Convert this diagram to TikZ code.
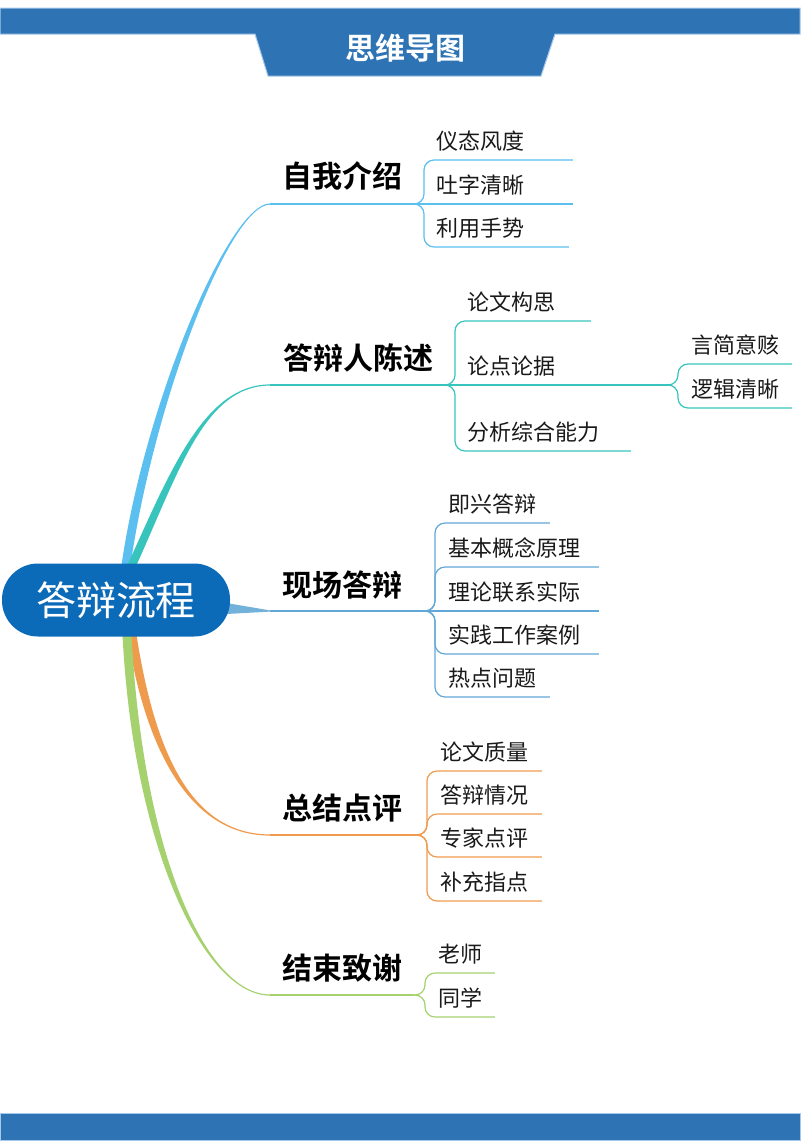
\documentclass[tikz,border=0pt]{standalone}
\usepackage{fontspec}
\setmainfont{Noto Sans CJK SC}[BoldFont={Noto Sans CJK SC Bold}]
\usetikzlibrary{calc,backgrounds}

\definecolor{barblue}{HTML}{2E74B5}
\definecolor{baredge}{HTML}{A7C8E8}
\definecolor{rootblue}{HTML}{0B6BB8}
\definecolor{cSky}{HTML}{5BBFEF}
\definecolor{cTeal}{HTML}{37C4BD}
\definecolor{cSteel}{HTML}{62A8D6}
\definecolor{cOrange}{HTML}{EF9B4E}
\definecolor{cGreen}{HTML}{A5D16F}

% tapered main branch: colour, root, control 1, control 2, end, side (1 up, -1 down)
\newcommand{\taper}[6]{%
  \fill[#1] ($#2+(-4.5,0)$) .. controls ($#3+(-4.5,0)$) and ($#4+(0,-0.6*#6)$) .. ($#5+(0,-0.6*#6)$)
    -- ($#5+(0,0.6*#6)$) .. controls ($#4+(0,0.6*#6)$) and ($#3+(4.5,0)$) .. ($#2+(4.5,0)$) -- cycle;}

\begin{document}
\begin{tikzpicture}[x=0.5pt,y=-0.5pt,
  root/.style={fill=rootblue,text=white,rounded corners=18pt,minimum width=114pt,
               minimum height=36.5pt,inner sep=0pt,font=\fontsize{20}{24}\selectfont},
  title/.style={text=white,inner sep=0pt,font=\fontsize{15}{18}\selectfont\bfseries},
  topic/.style={inner sep=0pt,text height=13.2pt,text depth=1.8pt,
                font=\fontsize{15}{18}\selectfont\bfseries},
  sub/.style={anchor=south west,align=left,inner xsep=6pt,inner ysep=4pt,
              text height=9.7pt,text depth=1.3pt,text=black!90,
              font=\fontsize{11}{13}\selectfont},
  ln/.style={line width=0.6pt},
  br/.style={ln,rounded corners=5pt}]
\useasboundingbox (0,0) rectangle (800,1147);

% ---- banner -----------------------------------------------------------
\fill[barblue,draw=baredge,line width=0.5pt] (0,8) -- (800,8) -- (800,34) -- (555,34)
  -- (541,76) -- (268,76) -- (255,34) -- (0,34) -- cycle;
\node[title] (ttl) at (405,48) {思维导图};
\fill[barblue,draw=baredge,line width=0.5pt] (0,1113) rectangle (800,1140);

% ---- root -------------------------------------------------------------
\node[root] (ctr) at (116,600) {答辩流程};
\coordinate (r1) at ($(ctr.north)+(10,2)$);
\coordinate (r2) at ($(ctr.north)+(16,2)$);
\coordinate (r4) at ($(ctr.south)+(16,-2)$);
\coordinate (r5) at ($(ctr.south)+(11,-2)$);

% ---- topics -----------------------------------------------------------
\node[topic] (zwjs) at (342,176) {自我介绍};
\node[topic] (dbrcs) at (358,358) {答辩人陈述};
\node[topic] (xcdb) at (342,585) {现场答辩};
\node[topic] (zjdp) at (342,808) {总结点评};
\node[topic] (jszx) at (342,968) {结束致谢};

\coordinate (zwjs-a) at (270,204);  \coordinate (zwjs-b) at (412,204);  \coordinate (zwjs-k) at (424,204);
\coordinate (dbrcs-a) at (270,385); \coordinate (dbrcs-b) at (443,385); \coordinate (dbrcs-k) at (455,385);
\coordinate (xcdb-a) at (270,611);  \coordinate (xcdb-b) at (423,611);  \coordinate (xcdb-k) at (435,611);
\coordinate (zjdp-a) at (270,835);  \coordinate (zjdp-b) at (415,835);  \coordinate (zjdp-k) at (427,835);
\coordinate (jszx-a) at (270,995);  \coordinate (jszx-b) at (413,995);  \coordinate (jszx-k) at (425,995);

% ---- sub topics -------------------------------------------------------
\node[sub,text width=62pt] (ytfd) at (424,160) {仪态风度};
\node[sub,text width=62pt] (tzqx) at (424,204) {吐字清晰};
\node[sub,text width=60pt] (lyss) at (424,247) {利用手势};

\node[sub,text width=55.5pt] (lwgs) at (455,321) {论文构思};
\node[sub,text width=94.5pt] (ldlj) at (455,385) {论点论据};
\node[sub,text width=75.5pt] (fxzh) at (455,451) {分析综合能力};
\coordinate (ldlj-k) at (678,385);
\node[sub,text width=44pt] (yjyg) at (679,364) {言简意赅};
\node[sub,text width=44pt] (ljqx) at (679,408) {逻辑清晰};

\node[sub,text width=44.5pt] (jxdb) at (436,523) {即兴答辩};
\node[sub,text width=69pt] (jbgn) at (436,567) {基本概念原理};
\node[sub,text width=69pt] (lllx) at (436,611) {理论联系实际};
\node[sub,text width=69pt] (sjgz) at (436,654) {实践工作案例};
\node[sub,text width=44.5pt] (rdwt) at (436,697) {热点问题};

\node[sub,text width=44.5pt] (lwzl) at (428,771) {论文质量};
\node[sub,text width=44.5pt] (dbqk) at (428,814) {答辩情况};
\node[sub,text width=44.5pt] (zjdpj) at (428,857) {专家点评};
\node[sub,text width=44.5pt] (bczd) at (428,901) {补充指点};

\node[sub,text width=22pt] (ls) at (426,973) {老师};
\node[sub,text width=22pt] (tx) at (426,1017) {同学};

% ---- main branches ----------------------------------------------------
\begin{scope}[on background layer]
\taper{cSky}{(r1)}{(150,400)}{(230,204)}{(zwjs-a)}{1}
\taper{cTeal}{(r2)}{(175,470)}{(205,385)}{(dbrcs-a)}{1}
\taper{cOrange}{(r4)}{(150,750)}{(190,835)}{(zjdp-a)}{-1}
\taper{cGreen}{(r5)}{(138,850)}{(205,995)}{(jszx-a)}{-1}
\fill[cSteel!90] ($(ctr.east)+(-4,3)$) -- ($(xcdb-a)+(0,-0.6)$) -- ($(xcdb-a)+(0,0.6)$)
  -- ($(ctr.east)+(-4,14)$) -- cycle;
\end{scope}

% ---- edges ------------------------------------------------------------
\draw[ln,cSky] (zwjs-a) -- (zwjs-b) -- (tzqx.south east);
\draw[br,cSky] (zwjs-b) -- (zwjs-k) |- (ytfd.south east);
\draw[br,cSky] (zwjs-b) -- (zwjs-k) |- (lyss.south east);

\draw[ln,cTeal] (dbrcs-a) -- (dbrcs-b) -- (ldlj.south east);
\draw[br,cTeal] (dbrcs-b) -- (dbrcs-k) |- (lwgs.south east);
\draw[br,cTeal] (dbrcs-b) -- (dbrcs-k) |- (fxzh.south east);
\draw[br,cTeal] (ldlj.south east) -- (ldlj-k) |- (yjyg.south east);
\draw[br,cTeal] (ldlj.south east) -- (ldlj-k) |- (ljqx.south east);

\draw[ln,cSteel] (xcdb-a) -- (xcdb-b) -- (lllx.south east);
\foreach \s in {jxdb,jbgn,sjgz,rdwt}
  \draw[br,cSteel] (xcdb-b) -- (xcdb-k) |- (\s.south east);

\draw[ln,cOrange] (zjdp-a) -- (zjdp-b);
\foreach \s in {lwzl,dbqk,zjdpj,bczd}
  \draw[br,cOrange] (zjdp-b) -- (zjdp-k) |- (\s.south east);

\draw[ln,cGreen] (jszx-a) -- (jszx-b);
\foreach \s in {ls,tx}
  \draw[br,cGreen] (jszx-b) -- (jszx-k) |- (\s.south east);
\end{tikzpicture}
\end{document}
